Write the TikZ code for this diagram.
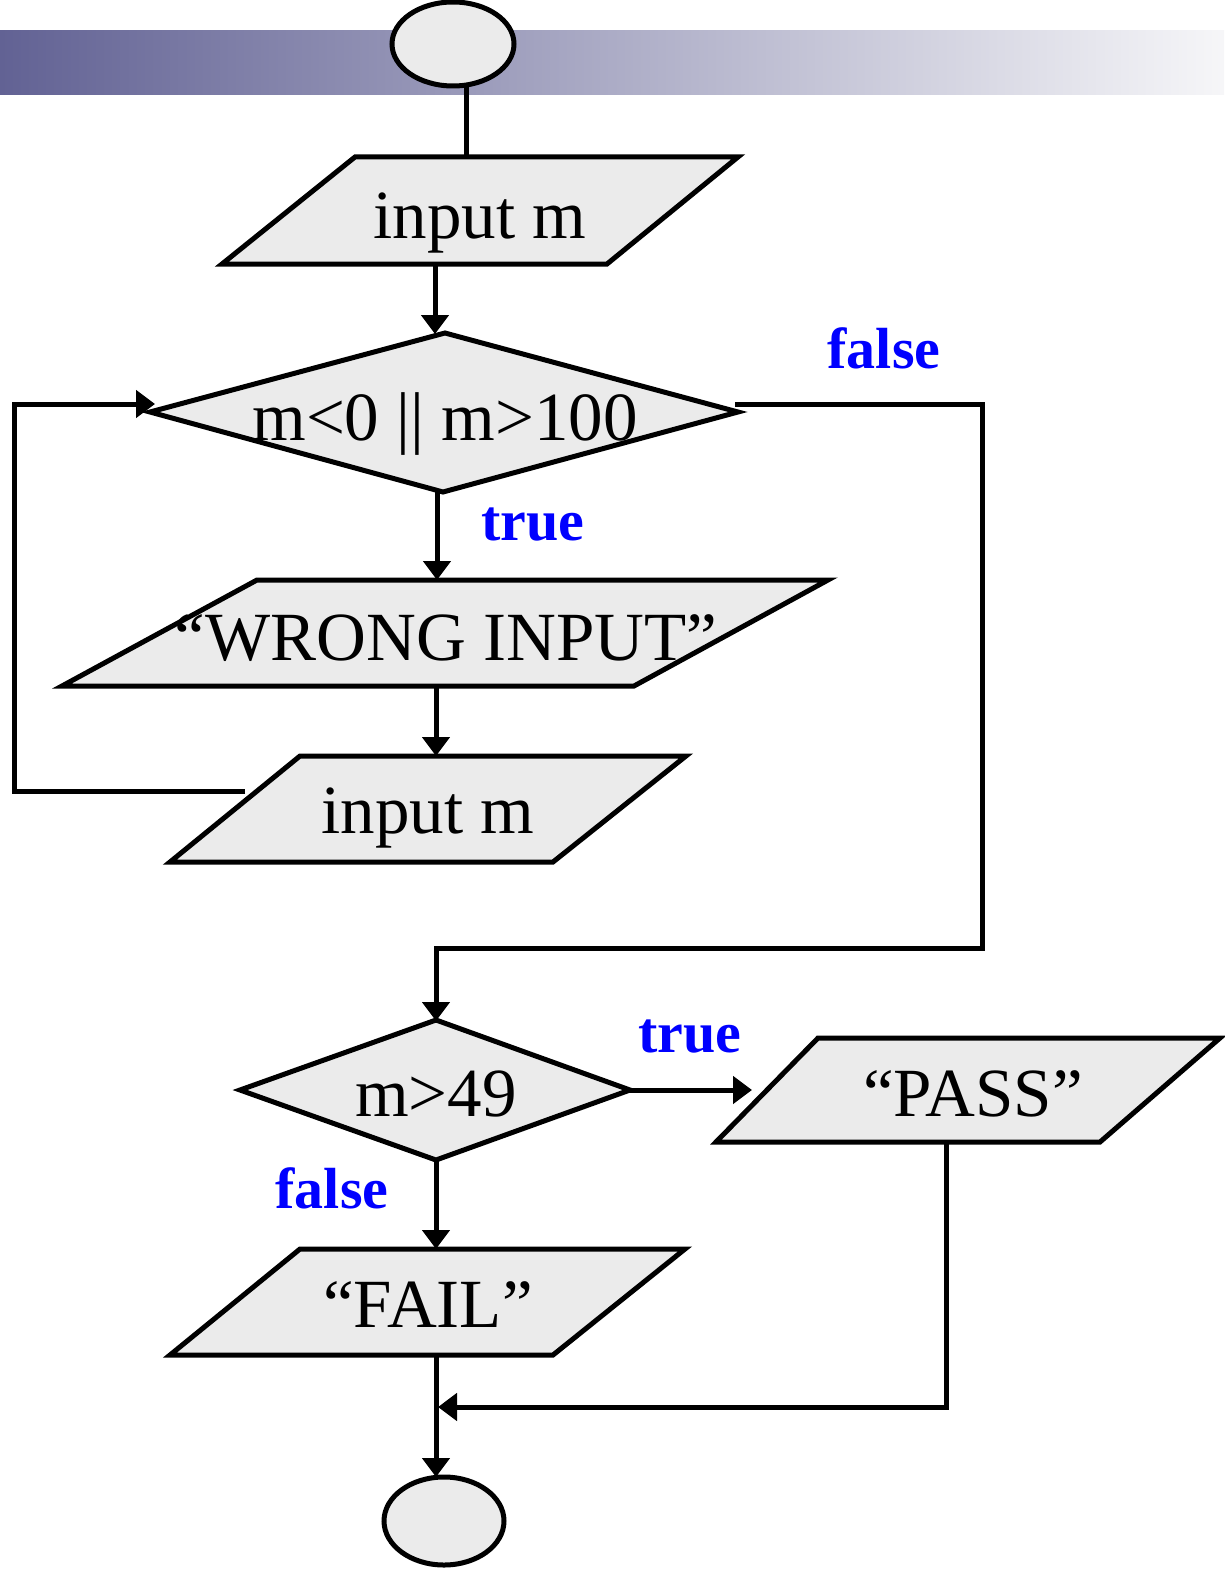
\documentclass[tikz,border=0pt]{standalone}
\usepackage{fontspec}
\setmainfont{Liberation Serif}
\usetikzlibrary{shapes.geometric,arrows.meta}
\definecolor{boxfill}{RGB}{235,235,235}
\definecolor{lbl}{RGB}{0,0,255}
\definecolor{bandL}{RGB}{98,98,148}
\definecolor{bandM}{RGB}{176,176,200}
\definecolor{bandR}{RGB}{246,246,248}
\begin{document}
\begin{tikzpicture}[x=1pt,y=-1pt, line width=5pt,
  shapebox/.style={draw=black, fill=boxfill, line join=miter},
  txt/.style={font=\fontsize{69}{72}\selectfont, inner sep=0pt, anchor=base},
  lab/.style={font=\fontsize{58}{60}\selectfont\bfseries, text=lbl, inner sep=0pt, anchor=base},
  conn/.style={draw=black, line width=5pt},
  arr/.style={conn, -{Triangle[length=19pt,width=27pt]}}]
\useasboundingbox (0,0) rectangle (1224,1573);
\shade[left color=bandL, middle color=bandM, right color=bandR] (0,31) rectangle (1224,95);

% start / end
\node[ellipse, shapebox, minimum width=122pt, minimum height=84pt, inner sep=0pt] (start) at (453,44) {};
\node[ellipse, shapebox, minimum width=120pt, minimum height=88pt, inner sep=0pt] (stop) at (444,1521) {};

% input m (1)
\draw[shapebox] (355,157) -- (738,157) -- (607,264) -- (222,264) -- cycle;
\node[txt] (in1) at (480,238) {input m};
% decision 1
\draw[shapebox] (150,412) -- (445,333) -- (738,412) -- (443,492) -- cycle;
\node[txt] (dec1) at (445,440) {m<0 || m>100};
% wrong input
\draw[shapebox] (257,580) -- (828,580) -- (634,686) -- (62,686) -- cycle;
\node[txt] (wrong) at (446,660) {“WRONG INPUT”};
% input m (2)
\draw[shapebox] (300,756) -- (686,756) -- (553,862) -- (170,862) -- cycle;
\node[txt] (in2) at (428,833) {input m};
% decision 2
\draw[shapebox] (240,1090) -- (436,1020) -- (630,1090) -- (436,1160) -- cycle;
\node[txt] (dec2) at (436,1116) {m>49};
% pass
\draw[shapebox] (818,1038) -- (1220,1038) -- (1100,1142) -- (716,1142) -- cycle;
\node[txt] (pass) at (973,1116) {“PASS”};
% fail
\draw[shapebox] (300,1249) -- (685,1249) -- (553,1355) -- (170,1355) -- cycle;
\node[txt] (fail) at (428,1327) {“FAIL”};

% labels
\node[lab] (lf1) at (884,368) {false};
\node[lab] (lt1) at (533,540) {true};
\node[lab] (lt2) at (690,1052) {true};
\node[lab] (lf2) at (332,1208) {false};

% connection points
\coordinate (c0a) at (466,84);
\coordinate (c0b) at (466,157);
\coordinate (c1a) at (435,264);
\coordinate (c1b) at (435,334);
\coordinate (c2a) at (437,492);
\coordinate (c2b) at (437,580);
\coordinate (c3a) at (436,686);
\coordinate (c3b) at (436,756);
\coordinate (l1) at (245,791);
\coordinate (l2) at (14,791);
\coordinate (l3) at (14,404);
\coordinate (l4) at (155,404);
\coordinate (f1) at (735,404);
\coordinate (f2) at (982,404);
\coordinate (f3) at (982,948);
\coordinate (f4) at (436,948);
\coordinate (f5) at (436,1021);
\coordinate (t1) at (630,1090);
\coordinate (t2) at (752,1090);
\coordinate (g1) at (436,1160);
\coordinate (g2) at (436,1249);
\coordinate (h1) at (436,1355);
\coordinate (h2) at (436,1477);
\coordinate (p1) at (946,1142);
\coordinate (p2) at (946,1407);
\coordinate (p3) at (438,1407);

\draw[conn] (c0a) -- (c0b);
\draw[arr] (c1a) -- (c1b);
\draw[arr] (c2a) -- (c2b);
\draw[arr] (c3a) -- (c3b);
\draw[arr] (l1) -- (l2) -- (l3) -- (l4);
\draw[arr] (f1) -- (f2) -- (f3) -- (f4) -- (f5);
\draw[arr] (t1) -- (t2);
\draw[arr] (g1) -- (g2);
\draw[arr] (h1) -- (h2);
\draw[arr] (p1) -- (p2) -- (p3);
\end{tikzpicture}
\end{document}
